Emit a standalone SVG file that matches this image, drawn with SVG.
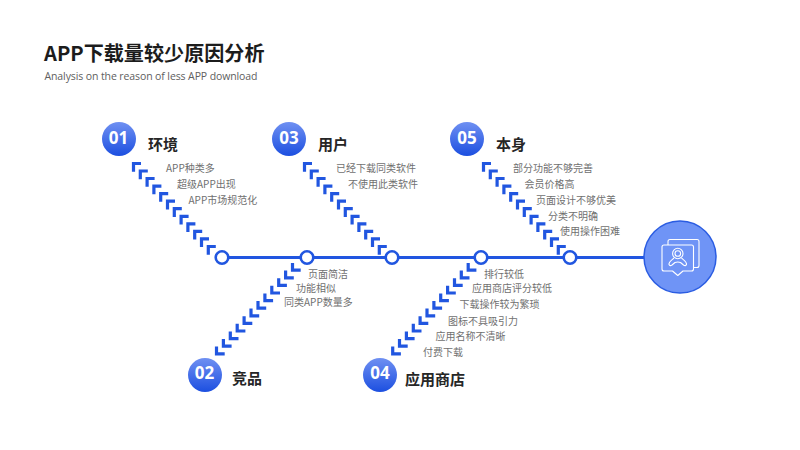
<svg xmlns="http://www.w3.org/2000/svg" width="800" height="450" viewBox="0 0 800 450">
<defs>
<linearGradient id="g" x1="0" y1="0" x2="0" y2="1"><stop offset="0" stop-color="#6f90f2"/><stop offset="1" stop-color="#1c4fe0"/></linearGradient>
<path id="cu" d="M9 1.500H1.500V9.700" fill="none" stroke="#2156e0" stroke-width="3.200"/>
<path id="cd" d="M1.500 0V7.200H9.700" fill="none" stroke="#2156e0" stroke-width="3.200"/>
</defs>
<style>
text{font-family:"Noto Sans CJK SC","Noto Sans",sans-serif}
.t{font-size:10px;fill:#707070}
.h{font-size:15px;font-weight:700;fill:#262626}
.n{font-size:17px;font-weight:700;fill:#fff;text-anchor:middle;font-family:"Open Sans","Noto Sans",sans-serif}
.b{fill:url(#g)}
.j{fill:#fff;stroke:#2156e0;stroke-width:2.6}
.i{fill:none;stroke:#fff;stroke-width:1.1;stroke-linejoin:round}
</style>
<rect width="800" height="450" fill="#fff"/>
<g id="title">
<text x="44" y="60.500" font-size="20.100" font-weight="700" fill="#1c1c1c">APP下载量较少原因分析</text>
<text x="44.500" y="80" font-size="10.500" fill="#606060" style="font-family:'Open Sans',sans-serif" textLength="213">Analysis on the reason of less APP download</text>
</g>
<g id="connectors">
<line x1="222" y1="257.500" x2="650" y2="257.500" stroke="#2156e0" stroke-width="2.800"/>
<g id="bone-01"><use href="#cu" x="132" y="162"/><use href="#cu" x="138.800" y="169.500"/><use href="#cu" x="145.600" y="177"/><use href="#cu" x="152.400" y="184.600"/><use href="#cu" x="159.200" y="192.100"/><use href="#cu" x="166" y="199.700"/><use href="#cu" x="172.800" y="207.200"/><use href="#cu" x="179.600" y="214.800"/><use href="#cu" x="186.400" y="222.300"/><use href="#cu" x="193.200" y="229.900"/><use href="#cu" x="200" y="237.400"/><use href="#cu" x="206.800" y="245"/></g>
<g id="bone-03"><use href="#cu" x="303" y="162"/><use href="#cu" x="309.800" y="169.500"/><use href="#cu" x="316.600" y="177"/><use href="#cu" x="323.400" y="184.600"/><use href="#cu" x="330.200" y="192.100"/><use href="#cu" x="337" y="199.700"/><use href="#cu" x="343.800" y="207.200"/><use href="#cu" x="350.600" y="214.800"/><use href="#cu" x="357.400" y="222.300"/><use href="#cu" x="364.200" y="229.900"/><use href="#cu" x="371" y="237.400"/><use href="#cu" x="377.800" y="245"/></g>
<g id="bone-05"><use href="#cu" x="482" y="162"/><use href="#cu" x="488.800" y="169.500"/><use href="#cu" x="495.600" y="177"/><use href="#cu" x="502.400" y="184.600"/><use href="#cu" x="509.200" y="192.100"/><use href="#cu" x="516" y="199.700"/><use href="#cu" x="522.800" y="207.200"/><use href="#cu" x="529.600" y="214.800"/><use href="#cu" x="536.400" y="222.300"/><use href="#cu" x="543.200" y="229.900"/><use href="#cu" x="550" y="237.400"/><use href="#cu" x="556.800" y="245"/></g>
<g id="bone-02"><use href="#cd" x="291" y="263"/><use href="#cd" x="284.100" y="270.600"/><use href="#cd" x="277.200" y="278.200"/><use href="#cd" x="270.300" y="285.800"/><use href="#cd" x="263.400" y="293.400"/><use href="#cd" x="256.500" y="301"/><use href="#cd" x="249.500" y="308.600"/><use href="#cd" x="242.600" y="316.200"/><use href="#cd" x="235.700" y="323.800"/><use href="#cd" x="228.800" y="331.400"/><use href="#cd" x="221.900" y="339"/><use href="#cd" x="215" y="346.600"/></g>
<g id="bone-04"><use href="#cd" x="466.700" y="263"/><use href="#cd" x="459.800" y="270.600"/><use href="#cd" x="453" y="278.200"/><use href="#cd" x="446.100" y="285.800"/><use href="#cd" x="439.200" y="293.400"/><use href="#cd" x="432.400" y="301"/><use href="#cd" x="425.500" y="308.600"/><use href="#cd" x="418.600" y="316.200"/><use href="#cd" x="411.800" y="323.800"/><use href="#cd" x="404.900" y="331.400"/><use href="#cd" x="398" y="339"/><use href="#cd" x="391.200" y="346.600"/></g>
</g>
<g id="joints">
<circle class="j" cx="222" cy="257.500" r="6.300"/><circle class="j" cx="307" cy="257.500" r="6.300"/><circle class="j" cx="392" cy="257.500" r="6.300"/><circle class="j" cx="481" cy="257.500" r="6.300"/><circle class="j" cx="570" cy="257.500" r="6.300"/>
</g>
<g id="node-01"><circle class="b" cx="119" cy="139" r="17"/><text class="n" x="118.500" y="144">01</text><text class="h" x="148" y="149.500">环境</text>
<text class="t" x="166" y="172">APP种类多</text><text class="t" x="177" y="188">超级APP出现</text><text class="t" x="188.500" y="203.500">APP市场规范化</text></g>
<g id="node-02"><circle class="b" cx="205" cy="375" r="17"/><text class="n" x="204.500" y="379">02</text><text class="h" x="232" y="384">竞品</text>
<text class="t" x="308" y="277.500">页面简洁</text><text class="t" x="296" y="291.500">功能相似</text><text class="t" x="284" y="306">同类APP数量多</text></g>
<g id="node-03"><circle class="b" cx="289" cy="139" r="17"/><text class="n" x="289" y="144">03</text><text class="h" x="318" y="149.500">用户</text>
<text class="t" x="336" y="172">已经下载同类软件</text><text class="t" x="348" y="188">不使用此类软件</text></g>
<g id="node-04"><circle class="b" cx="380" cy="375" r="17"/><text class="n" x="380" y="379">04</text><text class="h" x="405" y="384.500">应用商店</text>
<text class="t" x="484" y="278">排行较低</text><text class="t" x="472" y="292">应用商店评分较低</text><text class="t" x="459.500" y="308">下载操作较为繁琐</text><text class="t" x="448" y="324.500">图标不具吸引力</text><text class="t" x="435.500" y="340">应用名称不清晰</text><text class="t" x="423" y="356">付费下载</text></g>
<g id="node-05"><circle class="b" cx="467" cy="139" r="17"/><text class="n" x="467" y="144">05</text><text class="h" x="496" y="149.500">本身</text>
<text class="t" x="513" y="172">部分功能不够完善</text><text class="t" x="524.500" y="188">会员价格高</text><text class="t" x="536" y="204">页面设计不够优美</text><text class="t" x="548" y="220">分类不明确</text><text class="t" x="560" y="235">使用操作困难</text></g>
<g id="head">
<circle cx="680" cy="257" r="36" fill="#6f94f6" stroke="#2a5ce2" stroke-width="1.500"/>
<path class="i" d="M668 245V241.500Q668 239.500 670 239.500H697Q699 239.500 699 241.500V265.500Q699 267.500 697 267.500H693.500"/>
<path class="i" d="M664 245H691.500Q693.500 245 693.500 247V269Q693.500 271 691.500 271H683L677.800 275.500L672.500 271H664Q662 271 662 269V247Q662 245 664 245Z"/>
<circle class="i" cx="677.800" cy="253.500" r="5.200"/>
<circle class="i" cx="677.800" cy="253.500" r="2.800"/>
<path class="i" d="M674 258C671 260.500 668.500 262 669 264.500Q670 266.500 672 265L675 262.500Q677.800 261.500 680.500 262.500L683.500 265Q685.500 266.500 686.500 264.500C687 262 684.500 260.500 681.500 258"/>
</g>
</svg>
